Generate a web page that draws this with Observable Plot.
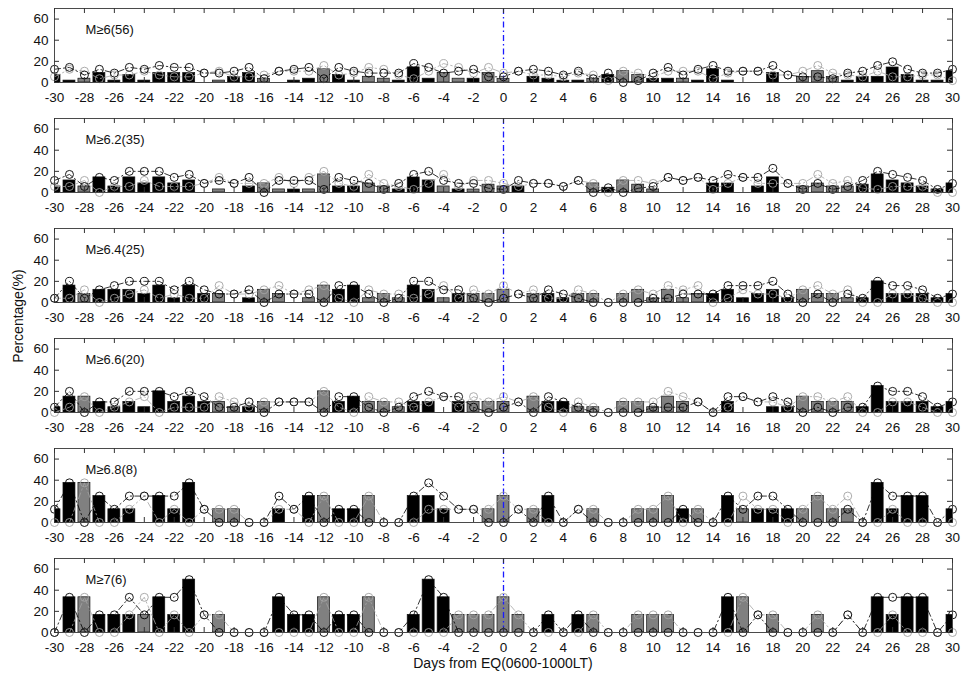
<!DOCTYPE html>
<html>
<head>
<meta charset="utf-8">
<script src="https://cdn.jsdelivr.net/npm/d3@7"></script>
<script src="https://cdn.jsdelivr.net/npm/@observablehq/plot@0.6"></script>
<style>
  body { margin: 0; background: #fff; }
  #wrap { position: relative; width: 963px; height: 681px; background: #fff; font-family: "Liberation Sans", Arial, sans-serif; }
  .panel { position: absolute; left: 0; }
  #xlab { position: absolute; left: 0; width: 1006px; top: 656px; line-height: 15px; text-align: center; font-size: 14px; color: #111; }
  #ylab { position: absolute; left: 18px; top: 316px; transform: translate(-50%, -50%) rotate(-90deg); font-size: 14px; color: #111; white-space: nowrap; }
</style>
</head>
<body>
<div id="wrap">
  <div id="xlab">Days from EQ(0600-1000LT)</div>
  <div id="ylab">Percentage(%)</div>
</div>
<script>
// Days from earthquake
const days = [-30,-29,-28,-27,-26,-25,-24,-23,-22,-21,-20,-19,-18,-17,-16,-15,-14,-13,-12,-11,-10,-9,-8,-7,-6,-5,-4,-3,-2,-1,0,
  1,2,3,4,5,6,7,8,9,10,11,12,13,14,15,16,17,18,19,20,21,22,23,24,25,26,27,28,29,30];
const xTicks = [-30,-28,-26,-24,-22,-20,-18,-16,-14,-12,-10,-8,-6,-4,-2,0,2,4,6,8,10,12,14,16,18,20,22,24,26,28,30];
const yTicks = [0, 20, 40, 60];
const panelLabels = ["M≥6(56)", "M≥6.2(35)", "M≥6.4(25)", "M≥6.6(20)", "M≥6.8(8)", "M≥7(6)"];

// black series (positive anomaly %) and gray series (negative anomaly %) per panel
const black60 = [12.5,14.3,7.1,12.5,8.9,14.3,12.5,16.1,14.3,14.3,8.9,8.9,10.7,14.3,3.6,10.7,12.5,14.3,3.6,14.3,10.7,8.9,8.9,8.9,17.9,14.3,8.9,10.7,12.5,5.4,5.4,
  10.7,12.5,10.7,7.1,10.7,3.6,8.9,0,1.8,8.9,14.3,7.1,12.5,16.1,10.7,10.7,10.7,16.1,7.1,5.4,5.4,3.6,8.9,10.7,16.1,19.6,12.5,8.9,8.9,12.5];
const gray60 = [5.4,12.5,10.7,3.6,7.1,7.1,10.7,7.1,5.4,5.4,8.9,10.7,5.4,5.4,7.1,10.7,10.7,10.7,16.1,7.1,8.9,14.3,12.5,7.1,3.6,10.7,17.9,14.3,8.9,14.3,8.9,
  10.7,7.1,7.1,5.4,8.9,7.1,1.8,10.7,8.9,5.4,10.7,10.7,10.7,3.6,8.9,10.7,10.7,7.1,7.1,10.7,16.1,8.9,7.1,5.4,10.7,5.4,5.4,7.1,7.1,1.8];

const black62 = [11.4,17.1,5.7,14.3,11.4,20,20,20,14.3,17.1,8.6,11.4,8.6,14.3,0,11.4,11.4,11.4,2.9,14.3,11.4,8.6,2.9,8.6,17.1,20,11.4,8.6,8.6,4,2.9,
  11.4,8.6,8.6,5.7,11.4,0,4.5,0,4,5.7,14.3,11.4,14.3,11.4,17.1,14.3,14.3,22.9,8.6,2.9,8.6,2.9,5.7,11.4,20,17.1,14.3,11.4,2.9,8.6];
const gray62 = [5.7,5.7,11.4,0,5.7,5.7,11.4,5.7,5.7,5.7,8.6,14.3,8.6,8.6,8.6,14.3,8.6,14.3,20,8.6,5.7,17.1,8.6,5.7,2.9,8.6,17.1,5.7,11.4,11.4,8.6,
  5.7,8.6,8.6,5.7,11.4,8.6,0,11.4,11.4,8.6,14.3,11.4,14.3,2.9,8.6,14.3,8.6,8.6,8.6,8.6,17.1,8.6,11.4,4,2.9,5.7,5.7,5.7,0,0];

const black64 = [4,20,4,12,16,20,20,20,12,20,12,8,8,12,0,8,8,8,0,16,16,8,0,4,20,20,12,12,4,0,4,
  8,4,12,8,4,0,0,0,0,4,4,8,8,8,16,16,16,20,8,0,8,0,8,4,20,16,16,12,4,8];
const gray64 = [4,4,12,0,4,8,12,4,8,4,4,16,8,8,12,16,8,12,16,4,0,12,8,8,4,8,16,4,12,8,16,
  8,12,4,4,12,8,0,8,12,8,16,12,16,0,4,12,8,8,4,12,16,8,12,0,0,8,8,4,0,0];

const black66 = [5,20,0,10,10,20,20,20,15,20,15,5,5,10,0,10,10,10,0,15,15,5,0,5,15,20,15,15,5,0,5,
  10,0,15,10,5,0,0,0,0,5,5,5,10,0,15,15,10,15,10,0,5,0,5,5,25,20,20,15,5,10];
const gray66 = [0,5,15,0,5,10,15,0,5,5,5,15,10,5,10,10,10,10,20,5,0,15,10,10,5,10,15,5,15,10,15,
  10,15,5,0,10,5,0,10,10,10,20,15,10,0,5,15,10,10,5,15,15,10,15,0,0,10,10,5,0,0];

const black68 = [12.5,37.5,0,25,12.5,25,25,25,25,37.5,12.5,0,0,0,0,25,12.5,25,0,12.5,12.5,0,0,0,25,37.5,25,12.5,12.5,0,0,
  12.5,0,25,0,12.5,0,0,0,0,0,0,12.5,0,0,25,12.5,25,25,12.5,0,0,0,12.5,0,37.5,25,25,25,0,12.5];
const gray68 = [0,0,37.5,0,0,12.5,25,0,12.5,0,12.5,12.5,12.5,0,0,12.5,12.5,0,25,0,0,25,0,0,0,12.5,12.5,12.5,12.5,12.5,25,
  12.5,12.5,0,0,12.5,12.5,0,0,12.5,12.5,25,0,12.5,0,0,25,12.5,12.5,0,12.5,25,12.5,25,0,0,12.5,0,0,0,0];

const black70 = [0,33.3,0,16.7,16.7,33.3,16.7,33.3,33.3,50,16.7,0,0,0,0,33.3,16.7,16.7,0,16.7,16.7,0,0,0,16.7,50,33.3,0,0,0,0,
  0,0,16.7,0,16.7,0,0,0,0,0,0,0,0,0,33.3,0,16.7,0,0,0,0,0,16.7,0,33.3,33.3,33.3,33.3,0,16.7];
const gray70 = [0,0,33.3,0,0,16.7,33.3,0,16.7,0,16.7,16.7,0,0,0,0,0,0,33.3,0,0,33.3,0,0,0,0,0,16.7,16.7,16.7,33.3,
  16.7,0,0,0,0,16.7,0,0,16.7,16.7,16.7,0,0,0,0,33.3,16.7,16.7,0,0,16.7,0,16.7,0,0,16.7,0,0,0,0];

const blackSeries = [black60, black62, black64, black66, black68, black70];
const graySeries = [gray60, gray62, gray64, gray66, gray68, gray70];

const W = 963, H = 110, ML = 54, MR = 11, MT = 8, MB = 28;
const plotH = H - MT - MB, plotW = W - ML - MR;
const FONT = "'Liberation Sans', Arial, sans-serif";
const GRAY_LINE = "#a3a3a3";
const dash = "6,3,1.5,3";

const wrap = document.getElementById("wrap");

panelLabels.forEach((label, i) => {
  const B = blackSeries[i], G = graySeries[i];
  const data = days.map((d, j) => ({day: d, b: B[j], g: G[j], diff: B[j] - G[j]}));
  const bars = data.filter(d => Math.abs(d.diff) > 1e-9);
  const chart = Plot.plot({
    width: W, height: H,
    marginLeft: ML, marginRight: MR, marginTop: MT, marginBottom: MB,
    x: {domain: [-30, 30], label: null},
    y: {domain: [0, 70], label: null},
    style: {fontFamily: FONT, fontSize: "13.5px", background: "transparent", color: "#111", overflow: "visible"},
    marks: [
      Plot.rectY(bars, {
        x1: d => d.day - 0.4, x2: d => d.day + 0.4, y1: 0, y2: d => Math.abs(d.diff),
        fill: d => d.diff > 0 ? "#000000" : "#808080",
        stroke: "#111", strokeWidth: 0.7, clip: true
      }),
      Plot.ruleX([0], {stroke: "#1a1aff", strokeDasharray: dash, strokeWidth: 1.3}),
      Plot.line(data, {x: "day", y: "g", stroke: GRAY_LINE, strokeWidth: 0.8, strokeDasharray: dash}),
      Plot.dot(data, {x: "day", y: "g", r: 4, stroke: GRAY_LINE, fill: "none", strokeWidth: 0.9}),
      Plot.line(data, {x: "day", y: "b", stroke: "#000", strokeWidth: 0.8, strokeDasharray: dash}),
      Plot.dot(data, {x: "day", y: "b", r: 4, stroke: "#000", fill: "none", strokeWidth: 0.9}),
      Plot.frame({stroke: "#4a4a4a", strokeWidth: 1}),
      // inward tick marks (MATLAB style) on all four sides
      Plot.ruleX(xTicks, {insetTop: plotH - 5, stroke: "#333", strokeWidth: 1}),
      Plot.ruleX(xTicks, {insetBottom: plotH - 5, stroke: "#333", strokeWidth: 1}),
      Plot.ruleY(yTicks, {insetRight: plotW - 5, stroke: "#333", strokeWidth: 1}),
      Plot.ruleY(yTicks, {insetLeft: plotW - 5, stroke: "#333", strokeWidth: 1}),
      Plot.axisX({ticks: xTicks, tickSize: 0, tickPadding: 10, tickFormat: d => String(d), fontSize: 13.5}),
      Plot.axisY({ticks: yTicks, tickSize: 0, tickPadding: 6, tickFormat: d => String(d), fontSize: 13.5}),
      Plot.text([label], {frameAnchor: "top-left", dx: 31, dy: 21, text: d => d, textAnchor: "start", lineAnchor: "middle", fontSize: 13, fill: "#111"})
    ]
  });
  chart.classList.add("panel");
  chart.style.top = (i * H) + "px";
  wrap.appendChild(chart);
});
</script>
</body>
</html>
